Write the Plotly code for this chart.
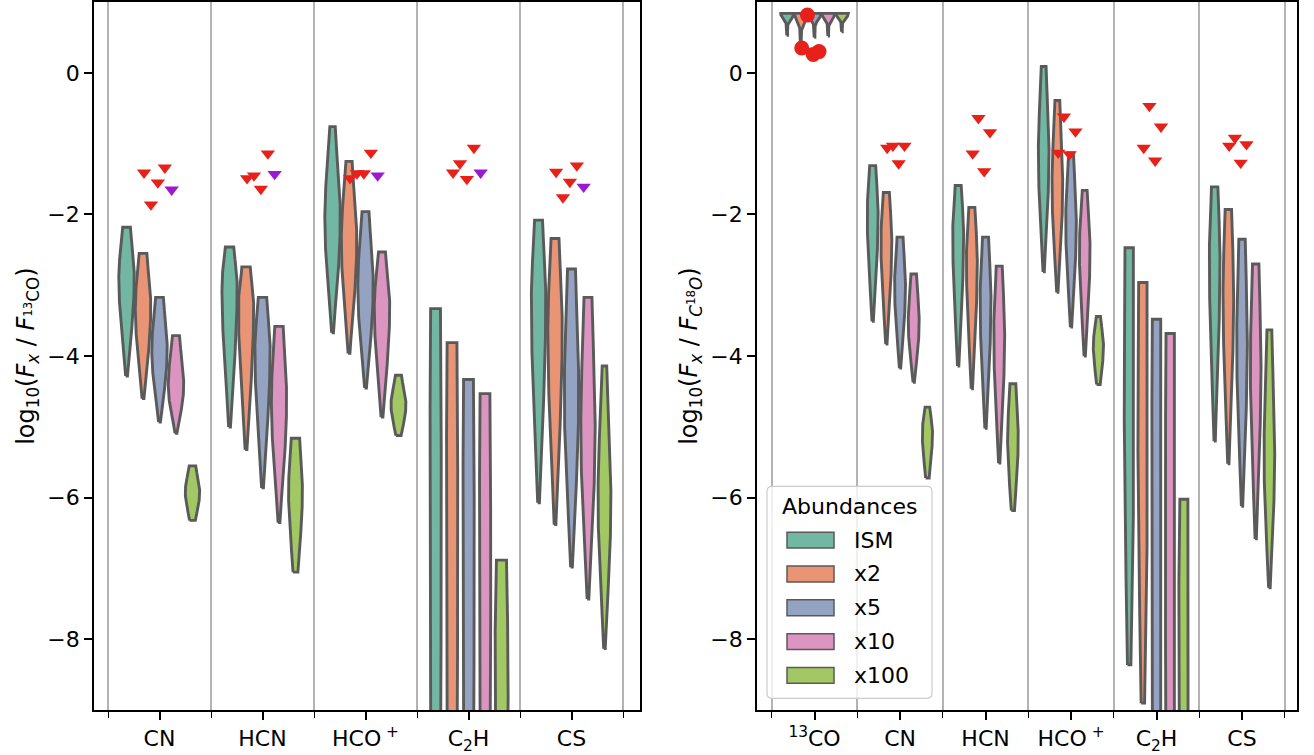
import numpy as np
import plotly.graph_objects as go

# ---------------------------------------------------------------- data
HUES = ["ISM", "x2", "x5", "x10", "x100"]

LEFT_CATS = ["CN", "HCN", "HCO<sup> +</sup>", "C<sub>2</sub>H", "CS"]
RIGHT_CATS = ["<sup>13</sup>CO", "CN", "HCN", "HCO<sup> +</sup>", "C<sub>2</sub>H", "CS"]

# log10 flux ratio relative to 13CO: upper end, lower end and densest value of each distribution
left_top = {
    "ISM":  [-2.18, -2.46, -0.76, -3.33, -2.08],
    "x2":   [-2.55, -2.74, -1.25, -3.81, -2.34],
    "x5":   [-3.17, -3.17, -1.96, -4.33, -2.77],
    "x10":  [-3.71, -3.58, -2.53, -4.53, -3.17],
    "x100": [-5.55, -5.16, -4.27, -6.88, -4.14],
}
left_bottom = {
    "ISM":  [-4.28, -5.00, -3.67, -11.0, -6.07],
    "x2":   [-4.60, -5.32, -3.96, -11.0, -6.38],
    "x5":   [-4.93, -5.86, -4.45, -11.0, -6.98],
    "x10":  [-5.09, -6.35, -4.86, -11.0, -7.43],
    "x100": [-6.32, -7.05, -5.12, -11.0, -8.13],
}
left_mode = {
    "ISM":  [-2.88, -3.00, -2.04, -6.0, -3.20],
    "x2":   [-3.30, -3.30, -2.36, -6.3, -3.60],
    "x5":   [-3.90, -3.90, -3.00, -6.6, -4.50],
    "x10":  [-4.41, -4.60, -3.30, -6.8, -5.00],
    "x100": [-5.92, -5.90, -4.69, -8.5, -6.00],
}
# relative density at the upper and lower ends of each distribution
left_top_density = {
    "ISM":  [0.50, 0.55, 0.35, 0.85, 0.55],
    "x2":   [0.50, 0.55, 0.40, 0.85, 0.55],
    "x5":   [0.50, 0.55, 0.45, 0.85, 0.55],
    "x10":  [0.45, 0.55, 0.45, 0.85, 0.55],
    "x100": [0.45, 0.60, 0.40, 0.75, 0.35],
}
left_bottom_density = {
    "ISM":  [0.12, 0.12, 0.12, 0.80, 0.12],
    "x2":   [0.12, 0.12, 0.12, 0.80, 0.12],
    "x5":   [0.12, 0.12, 0.12, 0.80, 0.12],
    "x10":  [0.12, 0.12, 0.12, 0.80, 0.12],
    "x100": [0.40, 0.35, 0.35, 0.80, 0.12],
}
left_peak_width = [0.150, 0.148, 0.150, 0.112, 0.140]
left_x100_width = [0.140, 0.135, 0.145, 0.130, 0.125]

# log10 flux ratio relative to C18O
right_top = {
    "ISM":  [0.84, -1.31, -1.59,  0.09, -2.47, -1.61],
    "x2":   [0.84, -1.69, -1.90, -0.39, -2.96, -1.93],
    "x5":   [0.84, -2.32, -2.32, -1.13, -3.48, -2.35],
    "x10":  [0.84, -2.84, -2.73, -1.66, -3.68, -2.70],
    "x100": [0.84, -4.72, -4.39, -3.44, -6.02, -3.63],
}
right_bottom = {
    "ISM":  [0.53, -3.51, -4.14, -2.81, -8.36, -5.20],
    "x2":   [0.38, -3.83, -4.46, -3.10, -8.90, -5.52],
    "x5":   [0.50, -4.17, -5.02, -3.59, -11.0, -6.12],
    "x10":  [0.52, -4.37, -5.51, -4.00, -11.0, -6.58],
    "x100": [0.58, -5.72, -6.18, -4.40, -11.0, -7.27],
}
right_mode = {
    "ISM":  [0.83, -1.99, -2.27, -1.13, -4.8, -2.6],
    "x2":   [0.83, -2.36, -2.64, -1.58, -5.2, -3.1],
    "x5":   [0.83, -3.00, -3.20, -2.09, -5.8, -3.8],
    "x10":  [0.83, -3.52, -3.67, -2.48, -6.0, -4.1],
    "x100": [0.83, -5.07, -5.16, -3.85, -8.0, -5.4],
}
right_top_density = {
    "ISM":  [1.0, 0.55, 0.55, 0.45, 0.85, 0.60],
    "x2":   [1.0, 0.55, 0.55, 0.45, 0.85, 0.60],
    "x5":   [1.0, 0.55, 0.55, 0.45, 0.85, 0.60],
    "x10":  [1.0, 0.50, 0.55, 0.45, 0.85, 0.60],
    "x100": [1.0, 0.45, 0.55, 0.40, 0.75, 0.45],
}
right_bottom_density = {
    "ISM":  [0.06, 0.12, 0.12, 0.12, 0.35, 0.12],
    "x2":   [0.06, 0.12, 0.12, 0.12, 0.35, 0.12],
    "x5":   [0.06, 0.12, 0.12, 0.12, 0.80, 0.12],
    "x10":  [0.06, 0.12, 0.12, 0.12, 0.80, 0.12],
    "x100": [0.06, 0.35, 0.30, 0.35, 0.80, 0.15],
}
right_peak_width = [0.150, 0.128, 0.128, 0.125, 0.115, 0.125]
right_x100_width = [0.150, 0.120, 0.125, 0.120, 0.125, 0.125]
right_tail_shape = [4.0, 0.6, 0.6, 0.6, 0.6, 0.6]

# observed upper limits (one column per source)
left_limits = {
    "CN":   [-1.41, -1.86, -1.55, -1.34],
    "HCN":  [-1.49, -1.45, -1.64, -1.14],
    "HCO+": [-1.49, -1.42, -1.42, -1.13],
    "C2H":  [-1.41, -1.28, -1.50, -1.06],
    "CS":   [-1.40, -1.76, -1.54, -1.31],
}
left_limits_extra = [-1.65, -1.43, -1.45, -1.41, -1.61]

right_detections_13co = [0.35, 0.815, 0.26, 0.30]
right_limits = {
    "CN":   [-1.06, -1.03, -1.28, -1.03],
    "HCN":  [-1.14, -0.64, -1.39, -0.84],
    "HCO+": [-1.13, -0.62, -1.15, -0.83],
    "C2H":  [-1.06, -0.47, -1.24, -0.76],
    "CS":   [-1.03, -0.92, -1.27, -1.01],
}

# ---------------------------------------------------------------- style
COLORS = ["#71b7a1", "#e99575", "#95a3c3", "#db95c0", "#a2c864"]
EDGE = "#5a5a5a"
RED = "#e8201a"
PURPLE = "#9a1ad2"
FONT = "DejaVu Sans"
FS = 22
HUE_OFFSETS = [-0.32, -0.16, 0.0, 0.16, 0.32]
SOURCE_OFFSETS = [-0.15, -0.083, -0.016, 0.052, 0.118]
W, H = 1314, 755


def violin_outline(center, width, lo, hi, mode, d_top, d_bot, tail=0.6, n=160):
    """Closed outline of one density-shaped violin (cut at its data range)."""
    ys = np.linspace(lo, hi, n)
    tp = np.clip((mode - lo) / (hi - lo), 1e-3, 1.0)
    t = (ys - lo) / (hi - lo)
    h = np.empty_like(t)
    below = t <= tp
    s = t[below] / tp
    h[below] = d_bot + (1 - d_bot) * ((1 - np.cos(np.pi * s)) / 2) ** tail
    if tp < 1.0:
        s2 = (t[~below] - tp) / (1 - tp)
        h[~below] = d_top + (1 - d_top) * ((1 + np.cos(np.pi * s2)) / 2) ** 0.7
    half = 0.5 * width * h
    xs = np.concatenate([center - half, (center + half)[::-1], [center - half[0]]])
    yy = np.concatenate([ys, ys[::-1], [ys[0]]])
    return xs, yy


def add_violins(fig, col, cats, top, bottom, mode, dtop, dbot, widths, w100, tails):
    for k, hue in enumerate(HUES):
        xs_all, ys_all = [], []
        for i in range(len(cats)):
            w = w100[i] if hue == "x100" else widths[i]
            xs, ys = violin_outline(
                i + HUE_OFFSETS[k], w, bottom[hue][i], top[hue][i],
                mode[hue][i], dtop[hue][i], dbot[hue][i], tails[i])
            xs_all += list(xs) + [None]
            ys_all += list(ys) + [None]
        fig.add_trace(go.Scatter(
            x=xs_all, y=ys_all, mode="lines", fill="toself",
            fillcolor=COLORS[k], line=dict(color=EDGE, width=2.9),
            name=hue, showlegend=False, hoverinfo="skip",
            xaxis="x" if col == 1 else "x2", yaxis="y" if col == 1 else "y2"))


fig = go.Figure()

add_violins(fig, 1, LEFT_CATS, left_top, left_bottom, left_mode,
            left_top_density, left_bottom_density, left_peak_width,
            left_x100_width, [0.6] * len(LEFT_CATS))
add_violins(fig, 2, RIGHT_CATS, right_top, right_bottom, right_mode,
            right_top_density, right_bottom_density, right_peak_width,
            right_x100_width, right_tail_shape)

# upper limits, left panel
lx, ly = [], []
for i, key in enumerate(left_limits):
    for j, v in enumerate(left_limits[key]):
        lx.append(i + SOURCE_OFFSETS[j])
        ly.append(v)
fig.add_trace(go.Scatter(x=lx, y=ly, mode="markers", showlegend=False,
                         marker=dict(symbol="triangle-down", size=12.5, color=RED),
                         xaxis="x", yaxis="y"))
fig.add_trace(go.Scatter(x=[i + SOURCE_OFFSETS[4] for i in range(len(left_limits_extra))],
                         y=left_limits_extra, mode="markers", showlegend=False,
                         marker=dict(symbol="triangle-down", size=12.5, color=PURPLE),
                         xaxis="x", yaxis="y"))

# detections and upper limits, right panel
fig.add_trace(go.Scatter(x=[SOURCE_OFFSETS[j] for j in range(len(right_detections_13co))],
                         y=right_detections_13co, mode="markers", showlegend=False,
                         marker=dict(symbol="circle", size=15, color=RED),
                         xaxis="x2", yaxis="y2"))
rx, ry = [], []
for i, key in enumerate(right_limits):
    for j, v in enumerate(right_limits[key]):
        rx.append(i + 1 + SOURCE_OFFSETS[j])
        ry.append(v)
fig.add_trace(go.Scatter(x=rx, y=ry, mode="markers", showlegend=False,
                         marker=dict(symbol="triangle-down", size=12.5, color=RED),
                         xaxis="x2", yaxis="y2"))

# ---------------------------------------------------------------- axes
yticks = [-8, -6, -4, -2, 0]
ytext = [("\u2212" + str(-v)) if v < 0 else str(v) for v in yticks]


def xaxis(cats, rng, domain):
    n = len(cats)
    return dict(
        domain=domain, range=rng, tickvals=list(range(n)), ticktext=cats,
        ticks="outside", ticklen=8, tickwidth=1.6, tickcolor="black",
        showgrid=False, zeroline=False, showline=True, mirror=True,
        linecolor="black", linewidth=1.6,
        tickfont=dict(family=FONT, size=FS, color="black"),
        minor=dict(tickvals=[i - 0.5 for i in range(n + 1)], ticks="outside",
                   ticklen=6, tickwidth=1.4, tickcolor="black",
                   showgrid=True, gridcolor="#b3b3b3", gridwidth=1.8),
    )


def yaxis(title, domain, anchor):
    return dict(
        domain=domain, range=[-9, 1], anchor=anchor,
        tickvals=yticks, ticktext=ytext, ticks="outside", ticklen=8,
        tickwidth=1.6, tickcolor="black", showgrid=False, zeroline=False,
        showline=True, mirror=True, linecolor="black", linewidth=1.6,
        tickfont=dict(family=FONT, size=FS, color="black"),
        title=dict(text=title, font=dict(family=FONT, size=24, color="black"),
                   standoff=6),
    )


ydom = [1 - 712 / H, 1.0]

# ---------------------------------------------------------------- legend box
def px(x):
    return x / W


def py(y):
    return 1 - y / H


shapes = []
annotations = []
bx0, bx1, by0, by1, r = 767, 932, 487, 700, 5
box_path = (
    f"M{px(bx0 + r)},{py(by0)} L{px(bx1 - r)},{py(by0)} Q{px(bx1)},{py(by0)} {px(bx1)},{py(by0 + r)} "
    f"L{px(bx1)},{py(by1 - r)} Q{px(bx1)},{py(by1)} {px(bx1 - r)},{py(by1)} "
    f"L{px(bx0 + r)},{py(by1)} Q{px(bx0)},{py(by1)} {px(bx0)},{py(by1 - r)} "
    f"L{px(bx0)},{py(by0 + r)} Q{px(bx0)},{py(by0)} {px(bx0 + r)},{py(by0)} Z"
)
shapes.append(dict(type="path", xref="paper", yref="paper", path=box_path,
                   fillcolor="rgba(255,255,255,0.8)", line=dict(color="#cccccc", width=1.2),
                   layer="above"))
annotations.append(dict(xref="paper", yref="paper", x=px(849), y=py(507),
                        text="Abundances", showarrow=False, xanchor="center", yanchor="middle",
                        font=dict(family=FONT, size=FS, color="black")))
for k, hue in enumerate(HUES):
    yc = 541 + 34 * k
    shapes.append(dict(type="rect", xref="paper", yref="paper",
                       x0=px(787), x1=px(834), y0=py(yc + 8), y1=py(yc - 8),
                       fillcolor=COLORS[k], line=dict(color=EDGE, width=1.5), layer="above"))
    annotations.append(dict(xref="paper", yref="paper", x=px(852), y=py(yc),
                            text=hue, showarrow=False, xanchor="left", yanchor="middle",
                            font=dict(family=FONT, size=FS, color="black")))

fig.update_layout(
    width=W, height=H, margin=dict(l=0, r=0, t=0, b=0),
    paper_bgcolor="white", plot_bgcolor="white",
    font=dict(family=FONT, size=FS, color="black"),
    xaxis=xaxis(LEFT_CATS, [-0.636, 4.665], [94 / W, 640 / W]),
    yaxis=yaxis("log<sub>10</sub>(<i>F</i><sub><i>x</i></sub> / <i>F</i><sub><sup>13</sup>CO</sub>)",
                ydom, "x"),
    xaxis2=dict(xaxis(RIGHT_CATS, [-0.673, 5.643], [757 / W, 1297 / W]), anchor="y2"),
    yaxis2=yaxis("log<sub>10</sub>(<i>F</i><sub><i>x</i></sub> / <i>F</i><sub><i>C</i><sup>18</sup><i>O</i></sub>)",
                 ydom, "x2"),
    shapes=shapes,
    annotations=annotations,
    showlegend=False,
)

fig.write_html("out.html")
